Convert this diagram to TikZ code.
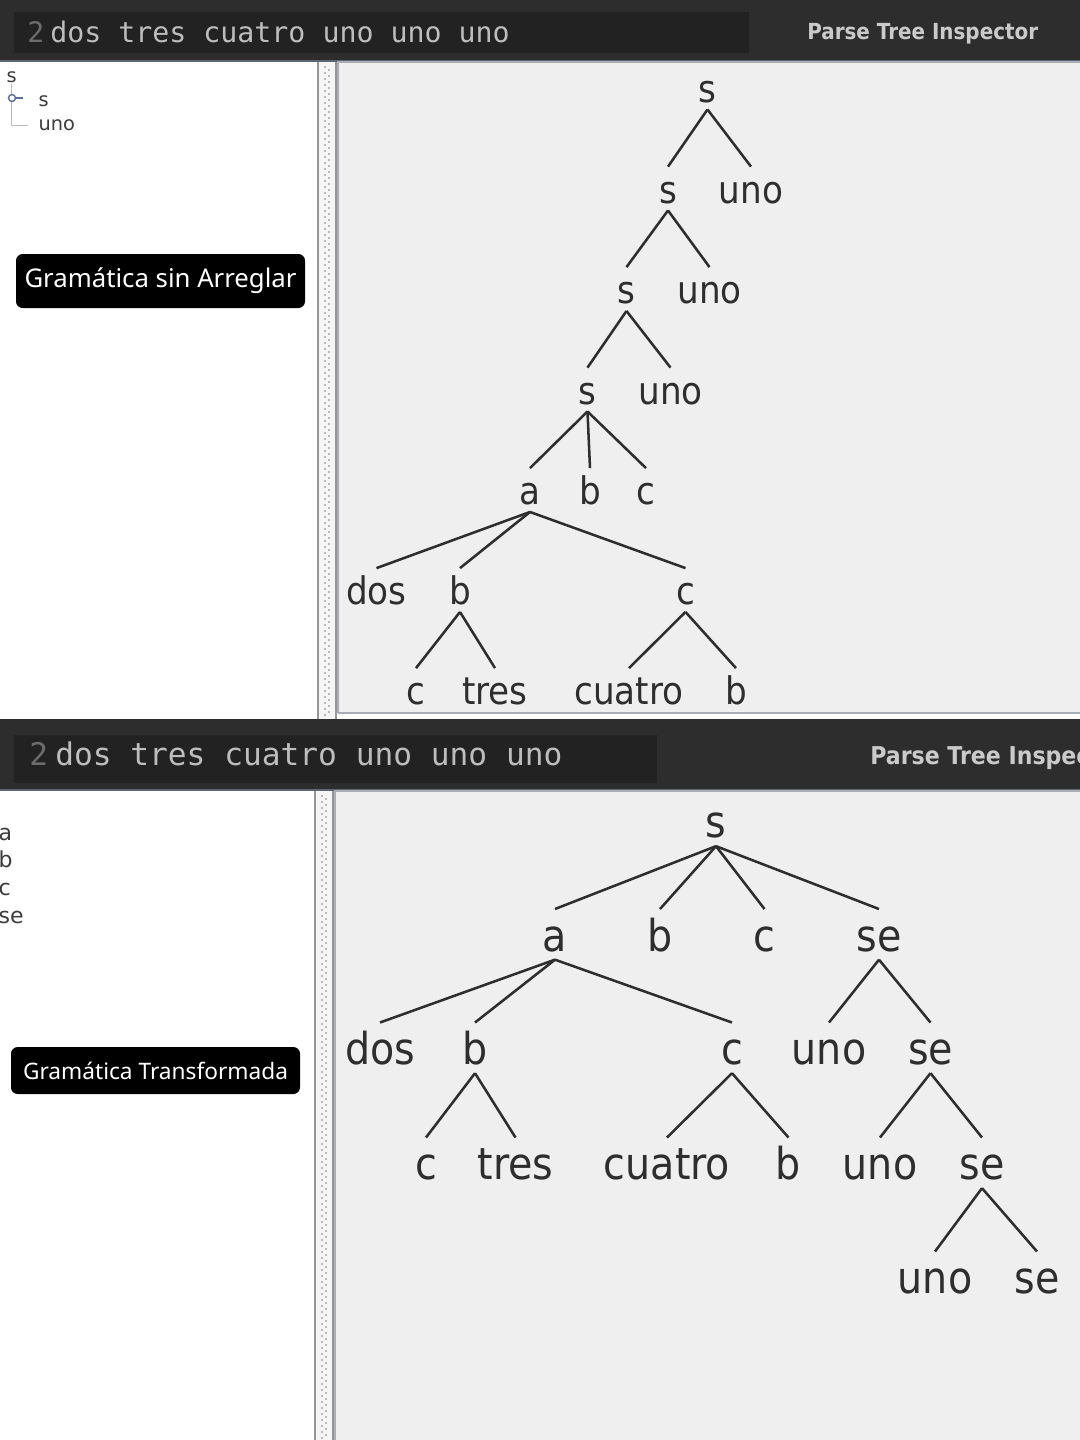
\documentclass[tikz,border=0pt]{standalone}
\usepackage{fontspec}
\setmainfont{DejaVu Sans}
\newfontfamily\treefont{DejaVu Sans}[FakeStretch=0.9]
\newfontfamily\barfont{DejaVu Sans Mono}
\newfontfamily\tagfont{Noto Sans}

\definecolor{barbg}{HTML}{2D2D2D}
\definecolor{barbox}{HTML}{222222}
\definecolor{bartext}{HTML}{BDBDBD}
\definecolor{linenum}{HTML}{6C6C6C}
\definecolor{headtext}{HTML}{CACACA}
\definecolor{barline}{HTML}{5E6672}
\definecolor{panelbg}{HTML}{EFEFEF}
\definecolor{panelline}{HTML}{A9AEB6}
\definecolor{listink}{HTML}{3C3C3C}
\definecolor{treeink}{HTML}{2E2E2E}
\definecolor{iconblue}{HTML}{5B7199}
\definecolor{guide}{HTML}{BBBBBB}

\begin{document}
\begin{tikzpicture}[x=0.75pt,y=-0.75pt,
    ttop/.style={font=\treefont\fontsize{28.5pt}{30pt}\selectfont, text=treeink,
      inner sep=0pt, text height=27.1pt, text depth=5.4pt, anchor=base},
    tbot/.style={font=\treefont\fontsize{33pt}{35pt}\selectfont, text=treeink,
      inner sep=0pt, text height=31.3pt, text depth=6.3pt, anchor=base},
    branch/.style={draw=treeink, line width=1.9pt},
    listtxt/.style={font=\fontsize{14.5pt}{16pt}\selectfont, text=listink,
      inner sep=1pt, anchor=base west},
    tag/.style={fill=black, rounded corners=5pt, text=white, inner sep=0pt,
      font=\tagfont},
    splitter/.style={draw=guide!80!black, line width=0.8pt}]

    % Page size
    \useasboundingbox (0,0) rectangle (1080,1440);

    % Row heights (baselines) of the two trees
    \def\rA{102} \def\rB{203} \def\rC{303.5} \def\rD{404}
    \def\rE{504.5} \def\rF{604.5} \def\rG{704.5}
    \def\nA{837.5} \def\nB{951} \def\nC{1064.5} \def\nD{1179.5} \def\nE{1293.5}

    % ---------- upper window ----------
    \fill[barbg] (0,0) rectangle (1080,61);
    \fill[barbox] (14,12) rectangle (749,53);
    \draw[barline, line width=1.5pt] (0,60.5) -- (1080,60.5);
    \node[font=\barfont\fontsize{21.2pt}{23pt}\selectfont, text=linenum,
      inner sep=0pt, anchor=base west] (num1) at (27,42) {2};
    \node[font=\barfont\fontsize{21.2pt}{23pt}\selectfont, text=bartext,
      inner sep=0pt, anchor=base west] (input1) at (50,42) {dos tres cuatro uno uno uno};
    \node[font=\treefont\bfseries\fontsize{16.6pt}{18pt}\selectfont, text=headtext,
      inner sep=0pt, anchor=base west] (title1) at (807,39) {Parse Tree Inspector};

    % panels
    \fill[white] (0,62) rectangle (1080,719);
    \fill[panelbg] (338,62) rectangle (1080,713);
    \draw[panelline, line width=1pt] (338,713) -- (338,62) -- (1080,62);
    \draw[panelline, line width=1pt] (338,713) -- (1080,713);

    % splitter
    \fill[black!4] (318,62) rectangle (336,719);
    \draw[splitter] (318,62) -- (318,719);
    \draw[splitter] (336,62) -- (336,719);
    \draw[guide, line width=1.3pt, dash pattern=on 1.3pt off 3.2pt] (325,66) -- (325,716);
    \draw[guide, line width=1.3pt, dash pattern=on 1.3pt off 3.2pt, dash phase=2.2pt] (329,66) -- (329,716);

    % small tree on the left
    \node[listtxt] (ls0) at (5,82.5) {s};
    \node[listtxt] (ls1) at (37,106.5) {s};
    \node[listtxt] (luno) at (37,130.5) {uno};
    \draw[guide, line width=0.8pt, shorten >=7pt] (ls0.south) |- (luno.west);
    \draw[iconblue, line width=1.1pt, fill=white] (12,98) circle (2.6pt);
    \draw[iconblue, line width=1.3pt] (15.5,98) -- (23,98);

    \node[tag, minimum width=216.75pt, minimum height=40.5pt,
      font=\tagfont\fontsize{19.3pt}{21pt}\selectfont] (tag1) at (160.5,281) {Gramática sin Arreglar};

    % original parse tree
    \node[ttop] (s0) at (707.5,\rA) {s};
    \node[ttop] (s1) at (668,\rB) {s};
    \node[ttop] (uno1) at (751,\rB) {uno};
    \node[ttop] (s2) at (626.5,\rC) {s};
    \node[ttop] (uno2) at (709.5,\rC) {uno};
    \node[ttop] (s3) at (587.5,\rD) {s};
    \node[ttop] (uno3) at (670.5,\rD) {uno};
    \node[ttop] (a) at (530,\rE) {a};
    \node[ttop] (b) at (590,\rE) {b};
    \node[ttop] (c) at (646,\rE) {c};
    \node[ttop] (dos) at (376.5,\rF) {dos};
    \node[ttop] (b2) at (460,\rF) {b};
    \node[ttop] (c2) at (685.5,\rF) {c};
    \node[ttop] (c3) at (416,\rG) {c};
    \node[ttop] (tres) at (495,\rG) {tres};
    \node[ttop] (cuatro) at (629,\rG) {cuatro};
    \node[ttop] (b3) at (736,\rG) {b};

    \foreach \p/\q in {s0/s1, s0/uno1, s1/s2, s1/uno2, s2/s3, s2/uno3,
        s3/a, s3/b, s3/c, a/dos, a/b2, a/c2, b2/c3, b2/tres, c2/cuatro, c2/b3}
      \draw[branch] (\p.south) -- (\q.north);

    % ---------- lower window ----------
    \fill[barbg] (0,719) rectangle (1080,790);
    \fill[barbox] (14,735) rectangle (657,783);
    \draw[barline, line width=1.5pt] (0,789.5) -- (1080,789.5);
    \node[font=\barfont\fontsize{23.4pt}{25pt}\selectfont, text=linenum,
      inner sep=0pt, anchor=base west] (num2) at (29,765) {2};
    \node[font=\barfont\fontsize{23.4pt}{25pt}\selectfont, text=bartext,
      inner sep=0pt, anchor=base west] (input2) at (55,765) {dos tres cuatro uno uno uno};
    \begin{scope}
      \clip (0,719) rectangle (1080,790);
      \node[font=\treefont\bfseries\fontsize{18.4pt}{20pt}\selectfont, text=headtext,
        inner sep=0pt, anchor=base west] (title2) at (870,764) {Parse Tree Inspector};
    \end{scope}

    % panels
    \fill[white] (0,791) rectangle (1080,1440);
    \fill[panelbg] (335,791) rectangle (1080,1440);
    \draw[panelline, line width=1pt] (335,1440) -- (335,791) -- (1080,791);

    % splitter
    \fill[black!4] (315,791) rectangle (333,1440);
    \draw[splitter] (315,791) -- (315,1440);
    \draw[splitter] (333,791) -- (333,1440);
    \draw[guide, line width=1.3pt, dash pattern=on 1.3pt off 3.2pt] (322,795) -- (322,1440);
    \draw[guide, line width=1.3pt, dash pattern=on 1.3pt off 3.2pt, dash phase=2.2pt] (326,795) -- (326,1440);

    % list on the left (cut at the border)
    \begin{scope}
      \clip (0,791) rectangle (315,1440);
      \node[listtxt, font=\fontsize{16.5pt}{18pt}\selectfont] (la) at (-3,840) {a};
      \node[listtxt, font=\fontsize{16.5pt}{18pt}\selectfont] (lb) at (-3,867) {b};
      \node[listtxt, font=\fontsize{16.5pt}{18pt}\selectfont] (lc) at (-3,895) {c};
      \node[listtxt, font=\fontsize{16.5pt}{18pt}\selectfont] (lse) at (-3,923) {se};
    \end{scope}

    \node[tag, minimum width=216.75pt, minimum height=35.25pt,
      font=\tagfont\fontsize{17pt}{19pt}\selectfont] (tag2) at (155.5,1070.5) {Gramática Transformada};

    % transformed parse tree
    \node[tbot] (ns) at (716,\nA) {s};
    \node[tbot] (na) at (555,\nB) {a};
    \node[tbot] (nb) at (660,\nB) {b};
    \node[tbot] (nc) at (764.5,\nB) {c};
    \node[tbot] (nse) at (879,\nB) {se};
    \node[tbot] (ndos) at (380,\nC) {dos};
    \node[tbot] (nb2) at (475,\nC) {b};
    \node[tbot] (nc2) at (732,\nC) {c};
    \node[tbot] (nuno) at (829,\nC) {uno};
    \node[tbot] (nse2) at (930.5,\nC) {se};
    \node[tbot] (nc3) at (426,\nD) {c};
    \node[tbot] (ntres) at (515.5,\nD) {tres};
    \node[tbot] (ncuatro) at (667,\nD) {cuatro};
    \node[tbot] (nb3) at (788.5,\nD) {b};
    \node[tbot] (nuno2) at (880,\nD) {uno};
    \node[tbot] (nse3) at (982,\nD) {se};
    \node[tbot] (nuno3) at (935,\nE) {uno};
    \node[tbot] (nse4) at (1037,\nE) {se};

    \foreach \p/\q in {ns/na, ns/nb, ns/nc, ns/nse, na/ndos, na/nb2, na/nc2,
        nse/nuno, nse/nse2, nb2/nc3, nb2/ntres, nc2/ncuatro, nc2/nb3,
        nse2/nuno2, nse2/nse3, nse3/nuno3, nse3/nse4}
      \draw[branch] (\p.south) -- (\q.north);
\end{tikzpicture}
\end{document}
